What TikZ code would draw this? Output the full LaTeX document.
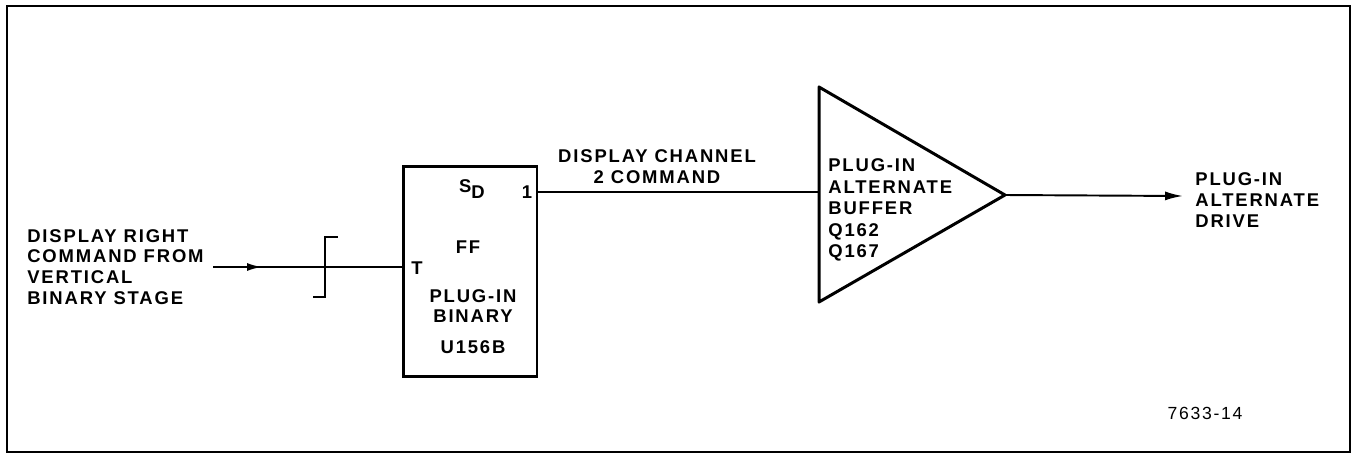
\documentclass[tikz,border=0pt]{standalone}
\usepackage{fontspec}
\setmainfont{Liberation Sans}[LetterSpace=10]
\usetikzlibrary{positioning,arrows.meta,decorations.markings}

\begin{document}
\begin{tikzpicture}[x=0.02cm, y=-0.02cm,
    every node/.style={font=\fontsize{10.5}{11.8}\selectfont\bfseries, inner sep=0pt},
    lbl/.style={align=left, anchor=west},
    wire/.style={line width=1.1pt},
    heavy/.style={line width=1.7pt},
    midarrow/.style={postaction={decorate}, decoration={markings,
        mark=at position #1 with {\arrow{Latex[length=3mm,width=1.6mm]}}}}
]
\useasboundingbox (0,0) rectangle (1355,460);
\draw[line width=1pt] (7,6) rectangle (1350,452);

\node[lbl] (inlbl) at (27,267) {DISPLAY RIGHT\\COMMAND FROM\\VERTICAL\\BINARY STAGE};
\node[draw, heavy, minimum width=2.68cm, minimum height=4.22cm] (ff) at (470,271.5) {};
\node (sd) at (472,189) {S\raisebox{-0.55ex}{D}};
\node (q) at (527,192) {1};
\node (fflbl) at (468,247) {FF};
\node (t) at (417,268) {T};
\node[align=center] (binlbl) at (473,306) {PLUG-IN\\BINARY};
\node (u) at (473,347) {U156B};

\node[align=center] (chlbl) at (657,167) {DISPLAY CHANNEL\\2 COMMAND};

\coordinate (bufin) at (819,192);
\coordinate (bufout) at (1005,195);
\draw[heavy, line join=round] (819,87) -- (bufout) -- (819,302) -- cycle;
\node[lbl, font=\fontsize{10.5}{12.3}\selectfont\bfseries] (buflbl) at (828,210) {PLUG-IN\\ALTERNATE\\BUFFER\\Q162\\Q167};

\node[lbl] (outlbl) at (1195,200) {PLUG-IN\\ALTERNATE\\DRIVE};
\node[font=\fontsize{10}{11}\selectfont] (fig) at (1205,413) {7633-14};

\coordinate (src) at (213,267);
\coordinate (tin) at (ff.west |- src);
\coordinate (qout) at (ff.east |- bufin);
\coordinate (drv) at (1183,196);
\draw[wire, midarrow=0.26] (src) -- (tin);
\draw[wire] (313,297) -- (325,297) -- (325,237) -- (338,237);
\draw[wire] (qout) -- (bufin);
\draw[wire, -{Latex[length=3.6mm,width=1.8mm]}] (bufout) -- (drv);
\end{tikzpicture}
\end{document}
